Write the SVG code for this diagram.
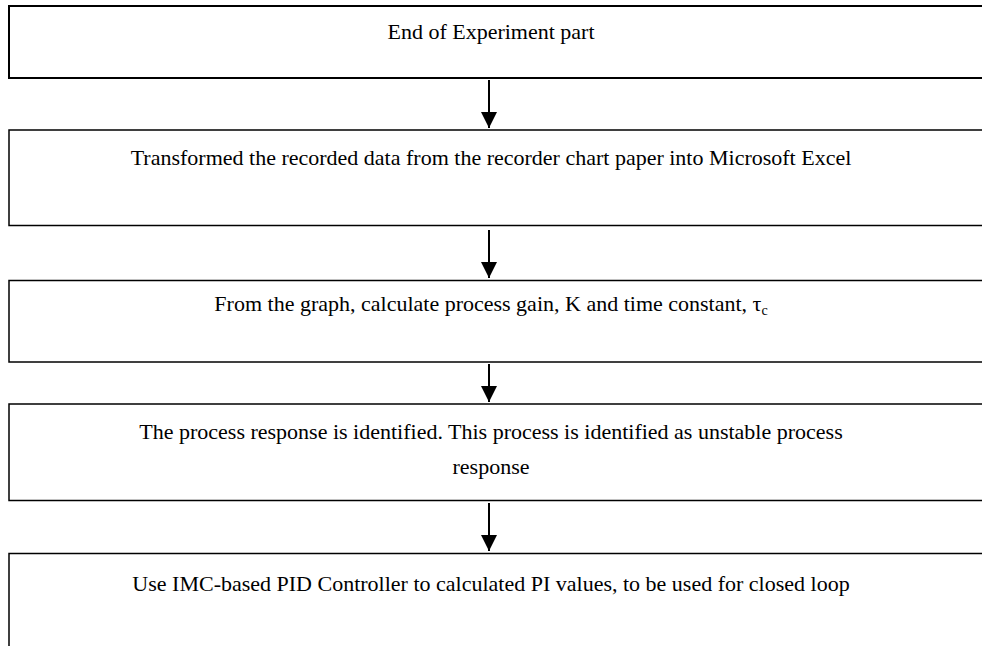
<svg xmlns="http://www.w3.org/2000/svg" width="982" height="646" viewBox="0 0 982 646">
<defs>
<style>
.box{fill:#fff;stroke:#000;stroke-width:1.5}
.t{font-family:"Liberation Serif","Times New Roman",serif;font-size:22px;fill:#000;text-anchor:middle}
.c{stroke:#000;stroke-width:2;fill:none}
</style>
<marker id="ah" markerUnits="userSpaceOnUse" markerWidth="18" markerHeight="18" viewBox="0 0 18 18" refX="16" refY="9" orient="auto">
<path d="M0,1 L16,9 L0,17 Z" fill="#000"/>
</marker>
</defs>
<rect width="982" height="646" fill="#fff"/>
<g id="n1"><rect class="box" x="9" y="6" width="980" height="72" style="stroke-width:2"/><text class="t" x="491" y="39">End of Experiment part</text></g>
<g id="n2"><rect class="box" x="9" y="130" width="980" height="95.5"/><text class="t" x="491" y="165">Transformed the recorded data from the recorder chart paper into Microsoft Excel</text></g>
<g id="n3"><rect class="box" x="9" y="280.5" width="980" height="81.5"/><text class="t" x="491" y="311">From the graph, calculate process gain, K and time constant, τ<tspan font-size="14" dy="4">c</tspan></text></g>
<g id="n4"><rect class="box" x="9" y="404" width="980" height="96.5"/><text class="t" x="491" y="439">The process response is identified. This process is identified as unstable process</text><text class="t" x="491" y="474">response</text></g>
<g id="n5"><rect class="box" x="9" y="553.5" width="980" height="100"/><text class="t" x="491" y="591">Use IMC-based PID Controller to calculated PI values, to be used for closed loop</text></g>
<g id="connectors">
<line class="c" x1="489" y1="80" x2="489" y2="128" marker-end="url(#ah)"/>
<line class="c" x1="489" y1="230" x2="489" y2="278" marker-end="url(#ah)"/>
<line class="c" x1="489" y1="364" x2="489" y2="402" marker-end="url(#ah)"/>
<line class="c" x1="489" y1="503" x2="489" y2="551" marker-end="url(#ah)"/>
</g>
</svg>
